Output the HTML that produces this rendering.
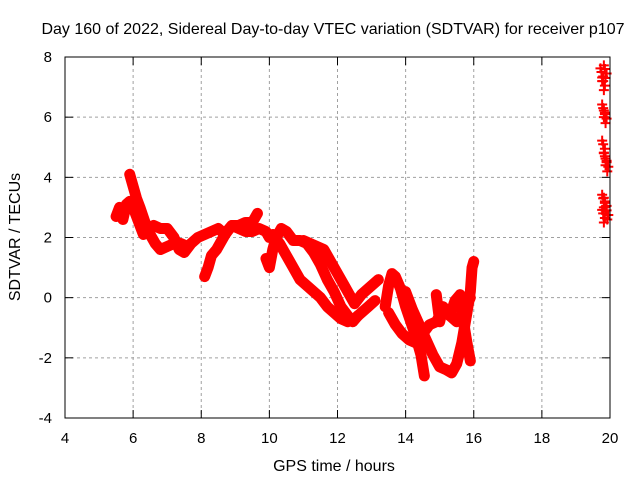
<!DOCTYPE html>
<html><head><meta charset="utf-8"><style>
body{margin:0;background:#fff}
svg{display:block;font-family:"Liberation Sans",sans-serif}
</style></head><body>
<svg id="c" width="640" height="480">
<text x="333" y="34" font-size="16" text-anchor="middle">Day 160 of 2022, Sidereal Day-to-day VTEC variation (SDTVAR) for receiver p107</text>
<text x="334" y="471" font-size="16" text-anchor="middle">GPS time / hours</text>
<text transform="translate(20,237) rotate(-90)" font-size="16" text-anchor="middle">SDTVAR / TECUs</text>
<g id="grid"></g><g id="marks"></g>
<rect x="65" y="57" width="545" height="361" fill="none" stroke="#000"/>
</svg>
<script>
const xTicks=[4,6,8,10,12,14,16,18,20];
const yTicks=[-4,-2,0,2,4,6,8];
const trackA=[[5.5,2.7],[5.6,3.0],[5.7,2.6],[5.8,3.1],[5.9,3.2],[6.0,3.0],[6.1,2.7],[6.2,2.4],[6.3,2.1],[6.45,2.3],[6.6,2.4],[6.8,2.3],[7.0,2.3],[7.2,2.0],[7.35,1.6],[7.5,1.5],[7.7,1.8],[7.9,2.0],[8.1,2.1],[8.3,2.2],[8.5,2.3],[8.7,2.1],[8.9,2.4],[9.1,2.3],[9.3,2.2],[9.5,2.2],[9.7,2.3],[9.9,2.2],[10.0,2.0]];
const trackB=[[5.9,4.1],[6.0,3.7],[6.1,3.3],[6.2,3.0],[6.35,2.5],[6.5,2.1],[6.65,1.8],[6.8,1.6],[7.0,1.7],[7.2,1.8],[7.4,1.8],[7.6,1.7]];
const trackC=[[8.1,0.7],[8.2,1.0],[8.3,1.4],[8.45,1.6],[8.6,1.9],[8.75,2.2],[8.9,2.4],[9.1,2.4],[9.3,2.5],[9.5,2.5],[9.65,2.8]];
const trackD=[[9.9,1.3],[10.0,1.0],[10.1,1.6],[10.2,2.0],[10.35,2.3],[10.5,2.2],[10.7,1.9],[10.9,1.9],[11.1,1.8],[11.3,1.5],[11.5,1.1],[11.7,0.6],[11.9,0.2],[12.1,-0.3],[12.3,-0.6],[12.45,-0.8],[12.6,-0.6]];
const trackE=[[10.1,2.1],[10.3,1.8],[10.5,1.4],[10.7,1.0],[10.9,0.6],[11.1,0.4],[11.3,0.2],[11.5,0.0],[11.7,-0.3],[11.9,-0.5],[12.1,-0.7],[12.3,-0.8],[12.5,-0.7],[12.7,-0.5],[12.9,-0.3],[13.1,-0.1]];
const trackF=[[11.0,1.9],[11.2,1.8],[11.4,1.7],[11.6,1.6],[11.8,1.2],[12.0,0.8],[12.2,0.4],[12.35,0.1],[12.5,-0.2],[12.7,0.1],[12.9,0.3],[13.1,0.5],[13.2,0.6]];
const trackG=[[13.4,-0.3],[13.5,0.4],[13.6,0.8],[13.7,0.7],[13.85,0.3],[14.0,-0.3],[14.15,-0.8],[14.3,-1.3],[14.45,-1.9],[14.55,-2.6]];
const trackH=[[13.5,-0.5],[13.7,-0.9],[13.9,-1.2],[14.1,-1.4],[14.3,-1.5],[14.5,-1.2],[14.7,-0.9],[14.9,-0.8],[15.1,-0.4],[15.3,-0.6],[15.5,-0.8],[15.7,-0.5],[15.9,0.0]];
const trackI=[[14.0,0.2],[14.2,-0.4],[14.4,-0.9],[14.6,-1.4],[14.8,-1.9],[15.0,-2.3],[15.2,-2.4],[15.35,-2.5],[15.5,-2.2],[15.65,-1.5],[15.8,-0.5],[15.9,0.2],[15.95,1.0],[16.0,1.2]];
const trackJ=[[14.9,0.1],[15.0,-0.8],[15.1,-0.3],[15.3,-0.6],[15.45,-0.1],[15.6,0.1],[15.7,-0.8],[15.8,-1.5],[15.9,-2.1]];
const trackK=[[19.75,7.5],[19.8,7.2],[19.85,7.6],[19.8,6.3],[19.85,6.1],[19.8,5.1],[19.85,4.7],[19.9,4.5],[19.8,3.3],[19.85,3.2],[19.8,2.8],[19.9,2.9]];
const tracks=[trackA,trackB,trackC,trackD,trackE,trackF,trackG,trackH,trackI,trackJ];
const X0=65,X1=610,Y0=418,Y1=57;
const sx=h=>X0+(h-4)/16*(X1-X0);
const sy=v=>Y0-(v+4)/12*(Y0-Y1);
const NS="http://www.w3.org/2000/svg";
const grid=document.getElementById('grid'),marks=document.getElementById('marks');
function mk(tag,at,parent){const e=document.createElementNS(NS,tag);for(const k in at)e.setAttribute(k,at[k]);parent.appendChild(e);return e;}
xTicks.forEach(t=>{const x=sx(t);
 if(t>4&&t<20){const g=mk('line',{x1:x,x2:x,y1:Y1,y2:Y0,stroke:'#a0a0a0','stroke-dasharray':'3,3'},grid);
 
 }
 mk('line',{x1:x,x2:x,y1:Y0,y2:Y0-8,stroke:'#000'},grid);mk('line',{x1:x,x2:x,y1:Y1,y2:Y1+8,stroke:'#000'},grid);
 const l=mk('text',{x:x,y:443,'font-size':15,'text-anchor':'middle'},grid);l.textContent=t;
 
 });
yTicks.forEach(t=>{const y=sy(t);
 if(t>-4&&t<8){const g=mk('line',{x1:X0,x2:X1,y1:y,y2:y,stroke:'#a0a0a0','stroke-dasharray':'3,3'},grid);
 
 }
 mk('line',{x1:X0,x2:X0+8,y1:y,y2:y,stroke:'#000'},grid);mk('line',{x1:X1,x2:X1-8,y1:y,y2:y,stroke:'#000'},grid);
 const l=mk('text',{x:52,y:y+5,'font-size':15,'text-anchor':'end'},grid);l.textContent=t;
 
 });
function plus(h,v){const x=sx(h),y=sy(v);
 const p=mk('path',{d:`M${x-5},${y}H${x+5}M${x},${y-5}V${y+5}`,stroke:'#f00','stroke-width':2},marks);
 
 }
tracks.forEach(tr=>{
 const pl=mk('polyline',{points:tr.map(p=>sx(p[0])+','+sy(p[1])).join(' '),fill:'none',stroke:'#f00','stroke-width':11,'stroke-linejoin':'round','stroke-linecap':'round'},marks);
 
 
 tr.forEach(p=>plus(p[0],p[1]));});
trackK.forEach(p=>{plus(p[0],p[1]);plus(p[0]+0.05,p[1]-0.15);plus(p[0]-0.03,p[1]+0.12);plus(p[0]+0.02,p[1]-0.3);});
</script>
</body></html>
